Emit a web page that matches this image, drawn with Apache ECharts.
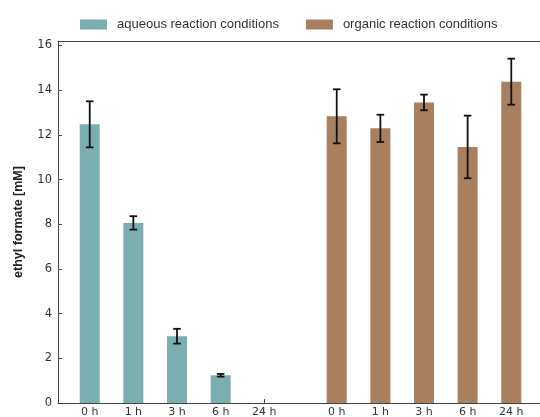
<!DOCTYPE html>
<html>
<head>
<meta charset="utf-8">
<script src="https://cdn.jsdelivr.net/npm/echarts@6/dist/echarts.min.js"></script>
<style>html,body{margin:0;padding:0;background:#fff}#c{width:540px;height:417px}</style>
</head>
<body>
<div id="c"></div>
<script>
const categories = ['0 h', '1 h', '3 h', '6 h', '24 h'];
const aqueousMean = [12.47, 8.06, 2.99, 1.24, 0];
const aqueousErr = [1.03, 0.30, 0.33, 0.06, 0];
const organicMean = [12.83, 12.29, 13.45, 11.46, 14.38];
const organicErr = [1.21, 0.61, 0.35, 1.40, 1.03];
const seriesNames = ['aqueous reaction conditions', 'organic reaction conditions'];
const yMin = 0, yMax = 16.2, yStep = 2, yLabelMax = 16;

const tealColor = '#7bafaf';
const brownColor = '#a8805f';
const axisColor = '#444';
const labelFont = 'DejaVu Sans';

const chart = echarts.init(document.getElementById('c'), null, {renderer: 'canvas'});

function errData(mean, err) {
  return mean.map((m, i) => [i, m - err[i], m + err[i], err[i]]);
}
function errRender(params, api) {
  if (api.value(3) <= 0) return null;
  const lo = api.coord([api.value(0), api.value(1)]);
  const hi = api.coord([api.value(0), api.value(2)]);
  const cap = 3.8;
  const style = {stroke: '#111', lineWidth: 1.8};
  return {
    type: 'group',
    children: [
      {type: 'line', shape: {x1: lo[0], y1: lo[1], x2: hi[0], y2: hi[1]}, style},
      {type: 'line', shape: {x1: lo[0] - cap, y1: lo[1], x2: lo[0] + cap, y2: lo[1]}, style},
      {type: 'line', shape: {x1: hi[0] - cap, y1: hi[1], x2: hi[0] + cap, y2: hi[1]}, style}
    ]
  };
}

const slot = 43.64;
const grids = [
  {left: 58, top: 41, width: 488, bottom: 14, outerBoundsMode: 'none'},
  {left: 67.9, top: 41, width: slot * 5, bottom: 14, outerBoundsMode: 'none'},
  {left: 314.9, top: 41, width: slot * 5, bottom: 14, outerBoundsMode: 'none'}
];

const frameAxis = (pos) => ({
  type: 'value', gridIndex: 0, min: 0, max: 1, position: pos,
  axisLine: {show: true, onZero: false, lineStyle: {color: axisColor}},
  axisTick: {show: false}, axisLabel: {show: false}, splitLine: {show: false}
});
const catAxis = (gi) => ({
  type: 'category', gridIndex: gi, data: categories, boundaryGap: true,
  axisLine: {show: false},
  axisTick: {show: true, inside: true, alignWithLabel: true, length: 4, lineStyle: {color: axisColor}},
  axisLabel: {color: '#333', fontFamily: labelFont, fontSize: 11, margin: 4},
  splitLine: {show: false}
});
const hiddenY = (gi) => ({type: 'value', gridIndex: gi, min: yMin, max: yMax, show: false});

chart.setOption({
  animation: false,
  legend: {
    data: seriesNames.map(n => ({name: n, icon: 'rect'})),
    top: 18, left: 80, padding: 0,
    itemWidth: 27, itemHeight: 10, itemGap: 27,
    textStyle: {fontFamily: 'Liberation Sans', fontSize: 13, color: '#333', padding: [0, 0, 0, 5]}
  },
  grid: grids,
  xAxis: [
    frameAxis('bottom'),
    frameAxis('top'),
    catAxis(1),
    catAxis(2)
  ],
  yAxis: [
    {
      type: 'value', gridIndex: 0, min: yMin, max: yMax, interval: yStep,
      name: 'ethyl formate [mM]', nameLocation: 'middle', nameGap: 33, nameRotate: 90,
      nameTextStyle: {fontFamily: 'Liberation Sans', fontWeight: 'bold', fontSize: 12.5, color: '#222'},
      axisLine: {show: true, lineStyle: {color: axisColor}},
      axisTick: {show: true, inside: true, length: 4, lineStyle: {color: axisColor}},
      axisLabel: {
        color: '#333', fontFamily: labelFont, fontSize: 11.5, margin: 6,
        formatter: v => (Math.abs(v % yStep) < 1e-9 && v <= yLabelMax) ? String(v) : ''
      },
      splitLine: {show: false}
    },
    hiddenY(1),
    hiddenY(2)
  ],
  series: [
    {
      name: seriesNames[0], type: 'bar', xAxisIndex: 2, yAxisIndex: 1,
      data: aqueousMean, barWidth: 20, itemStyle: {color: tealColor}
    },
    {
      name: seriesNames[1], type: 'bar', xAxisIndex: 3, yAxisIndex: 2,
      data: organicMean, barWidth: 20, itemStyle: {color: brownColor}
    },
    {
      type: 'custom', xAxisIndex: 2, yAxisIndex: 1, renderItem: errRender,
      data: errData(aqueousMean, aqueousErr), z: 5, silent: true
    },
    {
      type: 'custom', xAxisIndex: 3, yAxisIndex: 2, renderItem: errRender,
      data: errData(organicMean, organicErr), z: 5, silent: true
    }
  ]
});
</script>
</body>
</html>
